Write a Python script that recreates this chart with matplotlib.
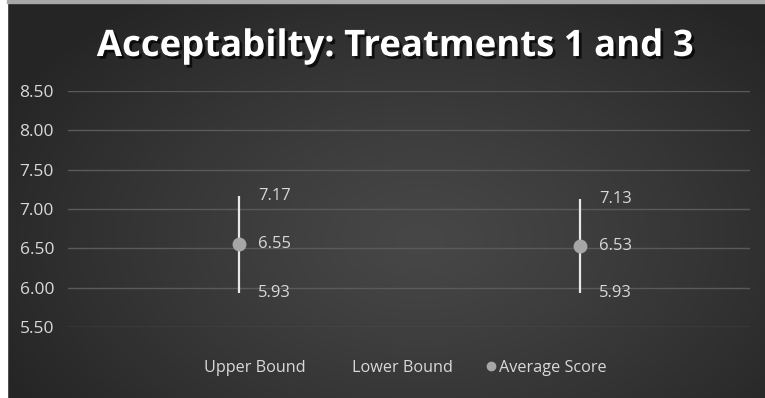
import numpy as np
import matplotlib
matplotlib.use("Agg")
import matplotlib.pyplot as plt
import matplotlib.patheffects as pe
from matplotlib.lines import Line2D
from matplotlib.patches import Rectangle

categories = ["Treatment 1", "Treatment 3"]
upper_bound = [7.17, 7.13]
lower_bound = [5.93, 5.93]
average_score = [6.55, 6.53]
y_ticks = [5.50, 6.00, 6.50, 7.00, 7.50, 8.00, 8.50]
title = "Acceptabilty: Treatments 1 and 3"

W, H = 765, 398
fig = plt.figure(figsize=(W / 100, H / 100), dpi=100)

# background radial gradient
bg = fig.add_axes([0, 0, 1, 1], zorder=-10)
yy, xx = np.mgrid[0:H, 0:W]
cx, cy = W * 0.55, H * 0.6
r = np.sqrt(((xx - cx) / (W * 0.62)) ** 2 + ((yy - cy) / (H * 0.75)) ** 2)
r = np.clip(r, 0, 1)
c_in, c_out = 0x47 / 255, 0x25 / 255
val = c_in + (c_out - c_in) * r ** 1.2
img = np.dstack([val, val, val])
bg.imshow(img, extent=[0, W, H, 0], aspect="auto", interpolation="bilinear")
bg.add_patch(Rectangle((0, 0), 7, H, color="white", zorder=5))
bg.add_patch(Rectangle((7, 0), W - 7, 2.5, color="#a8a8a8", zorder=5))
bg.set_xlim(0, W)
bg.set_ylim(H, 0)
bg.axis("off")

ax = fig.add_axes([68 / W, 1 - 327 / H, (750 - 68) / W, (327 - 91) / H])
ax.set_facecolor("none")
x = np.arange(len(categories))
ax.set_xlim(-0.5, len(categories) - 0.5)
ax.set_ylim(5.5, 8.5)
ax.set_yticks(y_ticks)
ax.set_yticklabels([f"{v:.2f}" for v in y_ticks])
ax.grid(axis="y", color="#5a5a5a", linewidth=1)
ax.set_axisbelow(True)
ax.tick_params(axis="y", length=0, colors="#d9d9d9", labelsize=12.5, pad=10)
ax.tick_params(axis="x", length=0, labelbottom=False)
for s in ax.spines.values():
    s.set_visible(False)
for lab in ax.get_yticklabels():
    lab.set_fontfamily("Open Sans")

ax.vlines(x, lower_bound, upper_bound, color="#e8e8e8", linewidth=1.6, zorder=3)
ax.plot(x, upper_bound, linestyle="none", marker="none", label="Upper Bound")
ax.plot(x, lower_bound, linestyle="none", marker="none", label="Lower Bound")
ax.plot(x, average_score, linestyle="none", marker="o", markersize=9,
        color="#a6a6a6", zorder=4, label="Average Score")

for xi, u, l, a in zip(x, upper_bound, lower_bound, average_score):
    for v in (u, l, a):
        ax.annotate(f"{v:.2f}", (xi, v), xytext=(14, 0), textcoords="offset points",
                    ha="left", va="center", color="#d9d9d9", fontsize=12,
                    fontfamily="Open Sans")

handles = [Line2D([], [], linestyle="none", marker="none"),
           Line2D([], [], linestyle="none", marker="none"),
           Line2D([], [], linestyle="none", marker="o", markersize=6, color="#a6a6a6")]
leg = fig.legend(handles, ["Upper Bound", "Lower Bound", "Average Score"],
                 loc="center", bbox_to_anchor=(399 / W, 1 - 368 / H), ncol=3,
                 frameon=False, handlelength=0.5, handletextpad=0.25, columnspacing=2.1,
                 prop={"family": "Open Sans", "size": 11.7})
for t in leg.get_texts():
    t.set_color("#d9d9d9")

fig.text(395 / W, 1 - 46 / H, title, ha="center", va="center", color="white",
         fontsize=26.3, fontweight="bold", fontfamily="Open Sans",
         path_effects=[pe.withSimplePatchShadow(offset=(2, -2), shadow_rgbFace="black", alpha=0.7)])

fig.savefig("out.png", dpi=100)
